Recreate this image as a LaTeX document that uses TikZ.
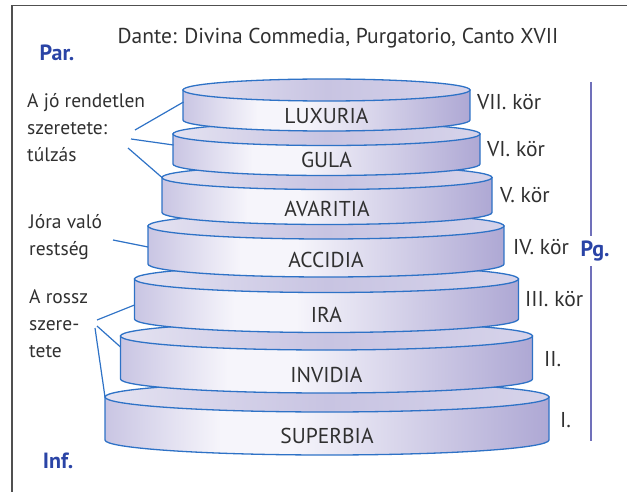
\documentclass[tikz,border=0pt]{standalone}
\usepackage{fontspec}
\setmainfont{PT Sans}
\definecolor{edge}{HTML}{2E72C6}
\definecolor{txt}{HTML}{303030}
\definecolor{hdr}{HTML}{2A44A6}
\definecolor{vline}{HTML}{7070BA}
\definecolor{framec}{HTML}{505050}
\definecolor{sideL}{HTML}{C9C5E3}
\definecolor{sideM}{HTML}{F6F5FB}
\definecolor{sideR}{HTML}{AEA8D4}
\definecolor{topL}{HTML}{E4E2F1}
\definecolor{topM}{HTML}{C8C4E2}
\definecolor{topR}{HTML}{D6D3EA}
\pgfdeclarehorizontalshading{sideshade}{100bp}{color(0bp)=(sideL); color(25bp)=(sideL); color(38bp)=(sideM); color(46bp)=(sideM); color(75bp)=(sideR); color(100bp)=(sideR)}
\pgfdeclarehorizontalshading{topshade}{100bp}{color(0bp)=(topL); color(25bp)=(topL); color(50bp)=(topM); color(75bp)=(topR); color(100bp)=(topR)}
\tikzset{
  disclabel/.style={text=txt, font=\fontsize{21.5}{24}\selectfont, inner sep=0pt},
  sidelabel/.style={text=txt, font=\fontsize{21.5}{24}\selectfont, inner sep=0pt, anchor=west},
  lefttext/.style={text=txt, font=\fontsize{19.5}{27}\selectfont, inner sep=0pt, align=left, anchor=north west},
  hdrlabel/.style={text=hdr, font=\fontsize{22}{24}\selectfont\bfseries, inner sep=0pt},
  conn/.style={draw=edge, line width=1.2pt},
  discedge/.style={draw=edge, line width=1.3pt}
}
\newcommand\mydisc[7]{%
  \path[shade, shading=sideshade, discedge] ({#2-#4},#3) -- ({#2-#4},{#3+#5})
    arc[start angle=180, end angle=0, x radius=#4, y radius=#6] -- ({#2+#4},#3) -- cycle;
  \path[shade, shading=topshade, discedge] (#2,#3) ellipse[x radius=#4, y radius=#6];
  \node[disclabel] (#1) at (#2,{#3+#5-4}) {#7};
}
\begin{document}
\begin{tikzpicture}[x=1pt, y=-1pt]
\useasboundingbox (0,0) rectangle (627,492);
% frame
\draw[framec, line width=1.5pt] (627,5.5) -- (12,5.5) -- (12,492);
% title
\node[text=txt, font=\fontsize{21.5}{24}\selectfont, inner sep=0pt] (title) at (338,38) {Dante: Divina Commedia, Purgatorio, Canto XVII};
\node[hdrlabel] (par) at (57,53) {Par.};
\node[hdrlabel] (inf) at (58,461) {Inf.};
\node[hdrlabel] (pg) at (595,251) {Pg.};
% vertical line
\coordinate (v1) at (591,82);
\coordinate (v2) at (591,236);
\coordinate (v3) at (591,266);
\coordinate (v4) at (591,441);
\draw[vline, line width=1.5pt] (v1) -- (v2) (v3) -- (v4);
% discs, bottom to top
\mydisc{superbia}{327}{397}{222}{43}{15}{SUPERBIA}
\mydisc{invidia}{326.5}{336}{206}{43}{14}{INVIDIA}
\mydisc{ira}{326.5}{279}{192}{40}{13.5}{IRA}
\mydisc{accidia}{326}{226}{178}{38}{13}{ACCIDIA}
\mydisc{avaritia}{327}{177.5}{165}{35}{12}{AVARITIA}
\mydisc{gula}{326.5}{134}{153.5}{30}{11.5}{GULA}
\mydisc{luxuria}{326.5}{90}{143.5}{30}{11}{LUXURIA}
% circle labels
\node[sidelabel] (k7) at (477,102) {VII. kör};
\node[sidelabel] (k6) at (487,149) {VI. kör};
\node[sidelabel] (k5) at (500,195) {V. kör};
\node[sidelabel] (k4) at (513,247) {IV. kör};
\node[sidelabel] (k3) at (525,299) {III. kör};
\node[sidelabel] (k2) at (544,359) {II.};
\node[sidelabel] (k1) at (560,420) {I.};
% left texts
\node[lefttext] (t1) at (27,93) {A jó rendetlen\\szeretete:\\túlzás};
\node[lefttext] (t2) at (29,214) {Jóra való\\restség};
\node[lefttext] (t3) at (29,289) {A rossz\\szere-\\tete};
% connector endpoints
\coordinate (a1) at (135,130);
\coordinate (a2) at (131,139);
\coordinate (a3) at (128,148);
\coordinate (b1) at (113,240);
\coordinate (c1) at (97,320);
\coordinate (c2) at (97,326);
\coordinate (c3) at (95,328);
\coordinate (e1) at (183.5,102);
\coordinate (e2) at (173.5,145);
\coordinate (e3) at (162,177.5);
\coordinate (e4) at (148,247);
\coordinate (e5) at (134.5,305);
\coordinate (e6) at (120.5,347);
\coordinate (e7) at (105,397);
\draw[conn] (a1) -- (e1);
\draw[conn] (a2) -- (e2);
\draw[conn] (a3) -- (e3);
\draw[conn] (b1) -- (e4);
\draw[conn] (c1) -- (e5);
\draw[conn] (c2) -- (e6);
\draw[conn] (c3) -- (e7);
\end{tikzpicture}
\end{document}
